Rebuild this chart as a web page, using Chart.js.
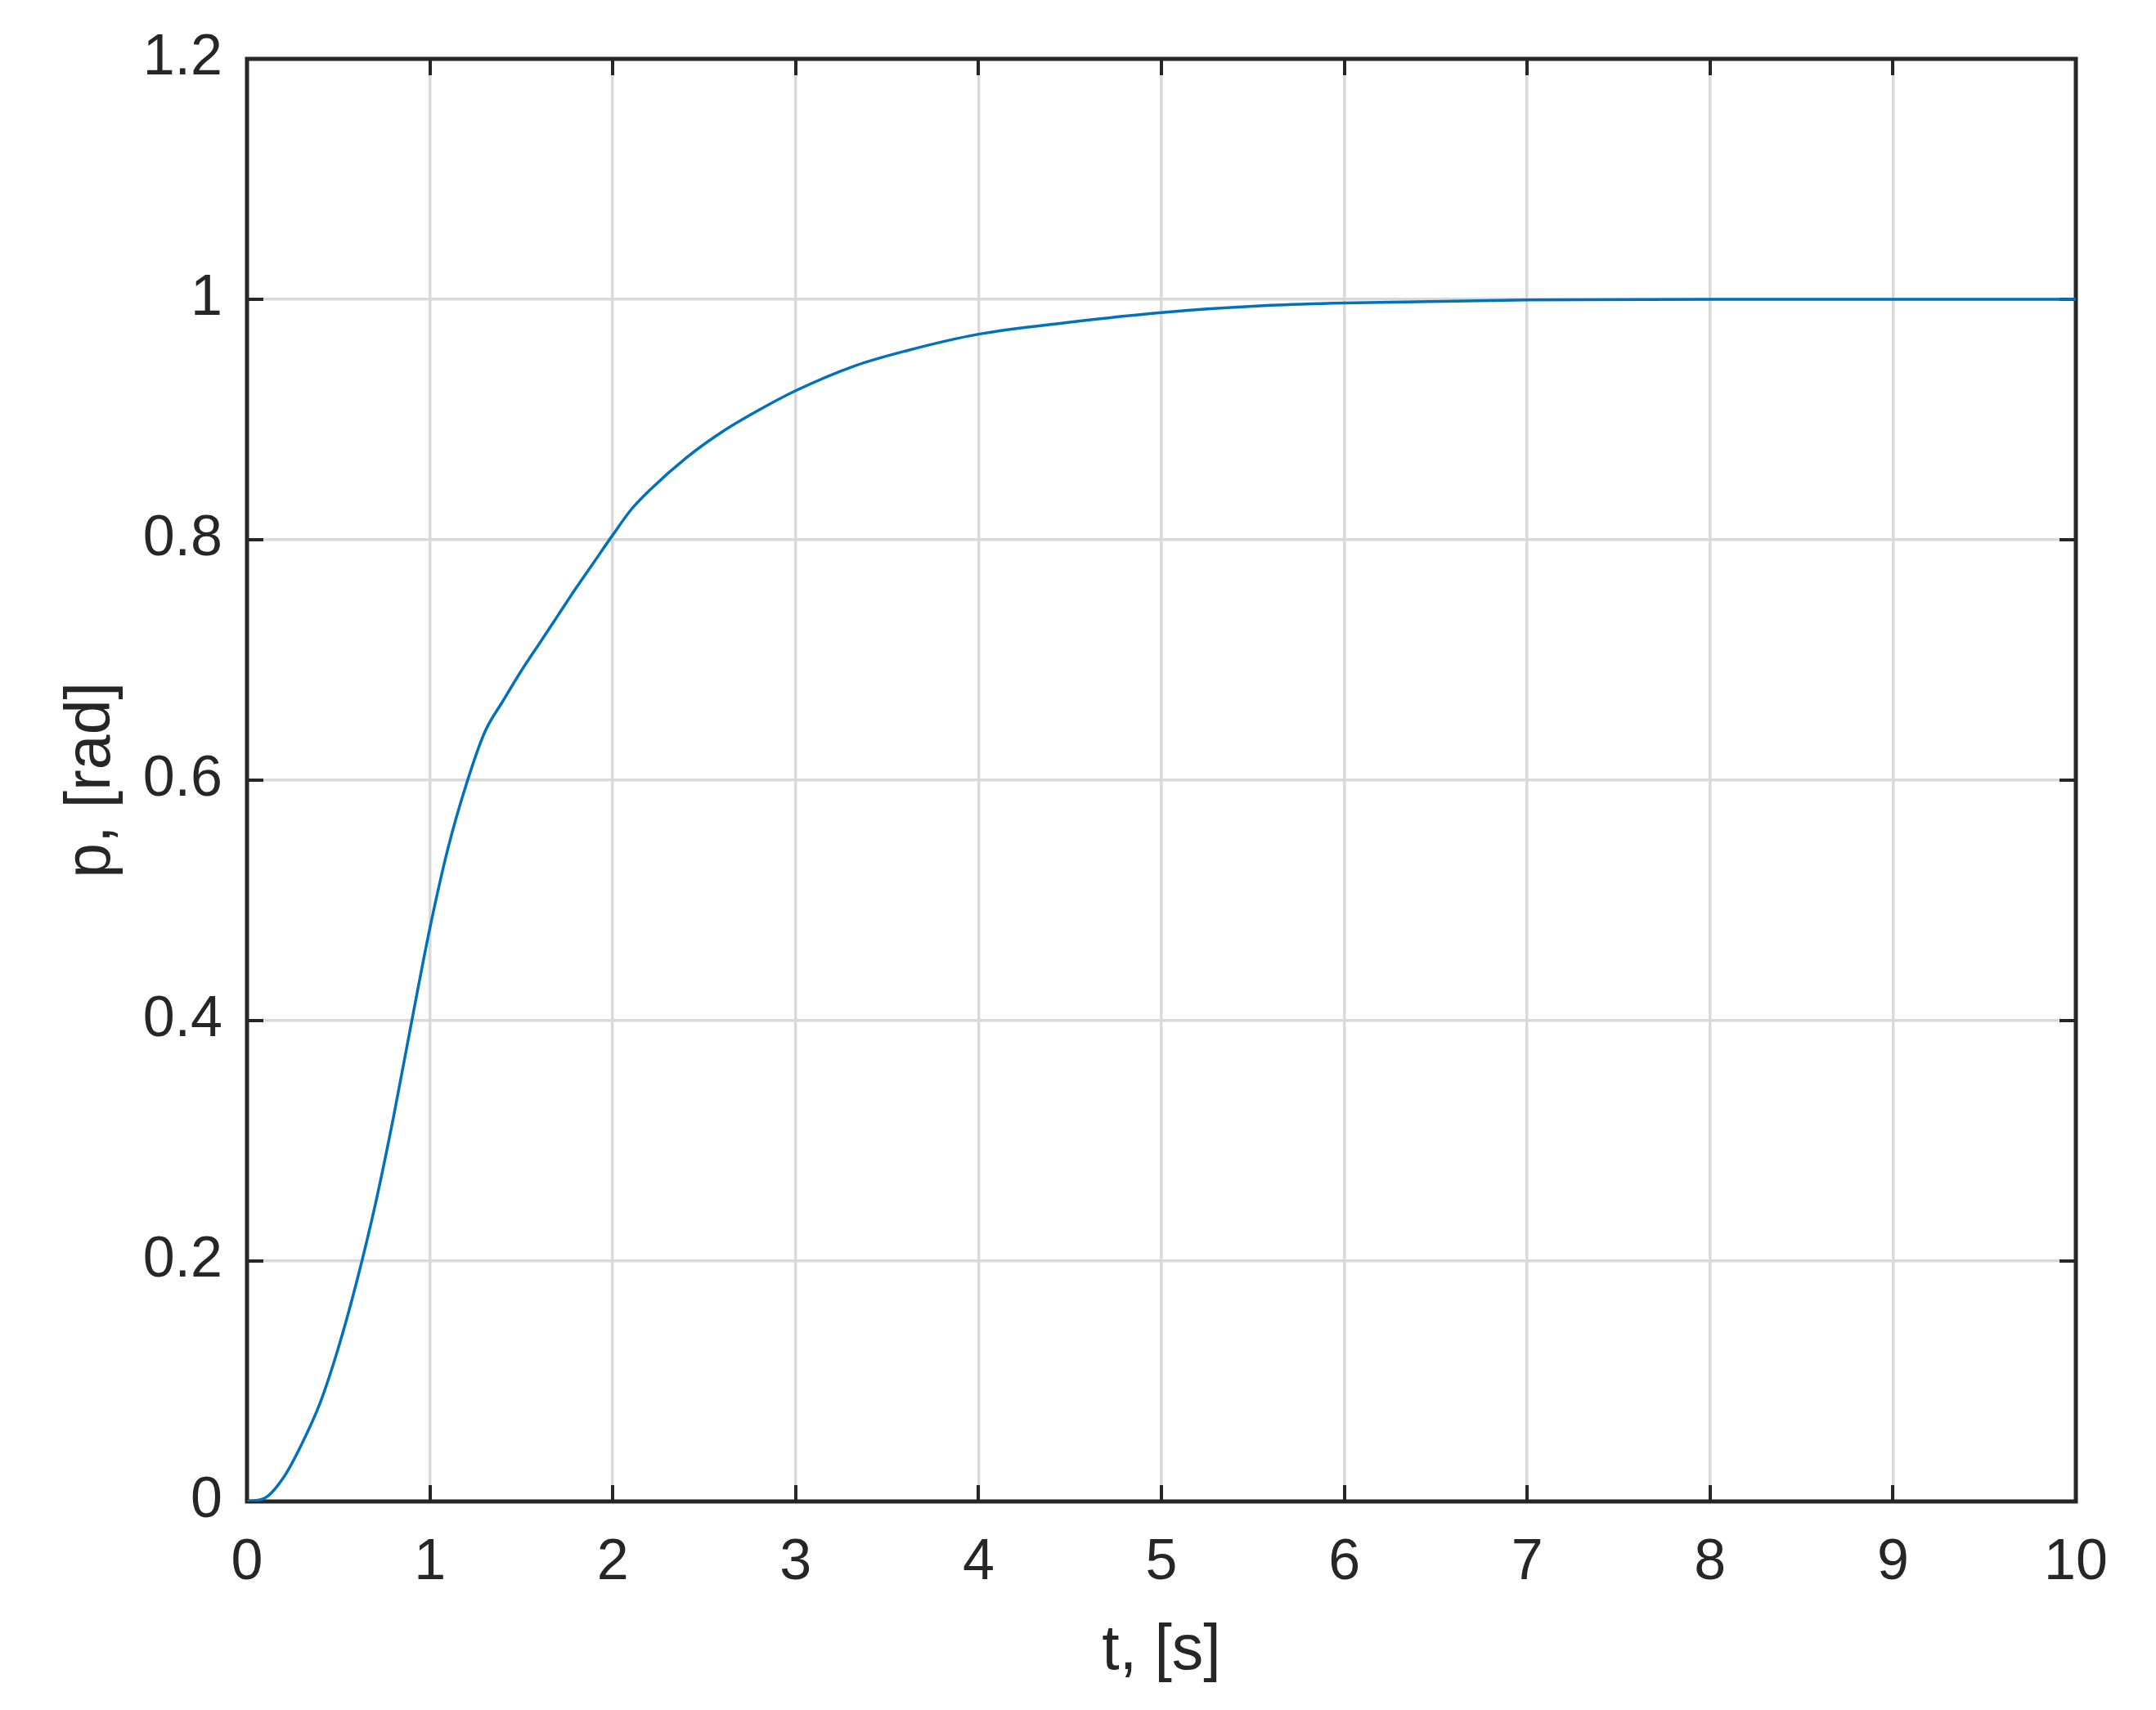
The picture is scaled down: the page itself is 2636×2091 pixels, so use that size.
<!DOCTYPE html>
<html>
<head>
<meta charset="utf-8">
<script src="https://cdn.jsdelivr.net/npm/chart.js@4"></script>
<style>
  html, body { margin: 0; padding: 0; background: #ffffff; }
  #wrap { width: 2636px; height: 2091px; }
</style>
</head>
<body>
<div id="wrap"><canvas id="c" width="2636" height="2091"></canvas></div>
<script>
// ---- data ----
const timeS = [0, 0.1, 0.2, 0.3, 0.4, 0.5, 0.6, 0.7, 0.8, 0.9, 1.0, 1.1, 1.2, 1.3, 1.4, 1.5, 1.6, 1.7, 1.8, 1.9, 2.0, 2.1, 2.2, 2.4, 2.6, 2.8, 3.0, 3.33, 3.6, 4.0, 4.5, 5.0, 5.6, 6.0, 7.0, 8.0, 9.0, 10.0];
const pRad  = [0, 0.003, 0.020, 0.048, 0.082, 0.128, 0.183, 0.246, 0.319, 0.399, 0.477, 0.544, 0.597, 0.640, 0.666, 0.691, 0.714, 0.737, 0.760, 0.782, 0.804, 0.825, 0.841, 0.868, 0.890, 0.908, 0.924, 0.945, 0.957, 0.971, 0.981, 0.989, 0.995, 0.997, 0.9995, 1.0, 1.0, 1.0];
const xTickValues = [0, 1, 2, 3, 4, 5, 6, 7, 8, 9, 10];
const xTickLabels = ['0', '1', '2', '3', '4', '5', '6', '7', '8', '9', '10'];
const yTickValues = [0, 0.2, 0.4, 0.6, 0.8, 1.0, 1.2];
const yTickLabels = ['0', '0.2', '0.4', '0.6', '0.8', '1', '1.2'];
const xTitle = 't, [s]';
const yTitle = 'p, [rad]';

const points = timeS.map((t, i) => ({ x: t, y: pRad[i] }));
const INK = '#262626';
const FONT = '"Liberation Sans", Arial, Helvetica, sans-serif';

function labelFor(values, labels, v) {
  for (let i = 0; i < values.length; i++) {
    if (Math.abs(values[i] - v) < 1e-6) return labels[i];
  }
  return '';
}

const frameAndTicks = {
  id: 'frameAndTicks',
  beforeDatasetsDraw(chart) {
    const { ctx, chartArea: a, scales } = chart;
    const tl = 20;
    ctx.save();
    ctx.strokeStyle = INK;
    ctx.lineWidth = 4;
    ctx.beginPath();
    scales.x.ticks.forEach(t => {
      const px = Math.round(scales.x.getPixelForValue(t.value));
      ctx.moveTo(px, a.bottom); ctx.lineTo(px, a.bottom - tl);
      ctx.moveTo(px, a.top); ctx.lineTo(px, a.top + tl);
    });
    scales.y.ticks.forEach(t => {
      const py = Math.round(scales.y.getPixelForValue(t.value));
      ctx.moveTo(a.left, py); ctx.lineTo(a.left + tl, py);
      ctx.moveTo(a.right, py); ctx.lineTo(a.right - tl, py);
    });
    ctx.stroke();
    ctx.lineWidth = 5;
    ctx.strokeRect(a.left, a.top, a.right - a.left, a.bottom - a.top);
    ctx.restore();
  }
};

new Chart(document.getElementById('c'), {
  type: 'line',
  data: {
    datasets: [{
      data: points,
      borderColor: '#0072BD',
      borderWidth: 3.5,
      pointRadius: 0,
      fill: false,
      cubicInterpolationMode: 'monotone'
    }]
  },
  options: {
    responsive: false,
    animation: false,
    devicePixelRatio: 1,
    layout: { padding: { left: 0, top: 64, right: 98, bottom: 0 } },
    plugins: { legend: { display: false }, tooltip: { enabled: false } },
    scales: {
      x: {
        type: 'linear',
        min: 0, max: 10,
        afterFit: s => { s.height = 255; },
        afterBuildTicks: s => { s.ticks = xTickValues.map(v => ({ value: v })); },
        grid: { color: '#d9d9d9', lineWidth: 3.5, drawTicks: false },
        border: { display: false },
        ticks: {
          padding: 34,
          color: INK,
          font: { family: FONT, size: 70 },
          maxRotation: 0,
          autoSkip: false,
          callback: v => labelFor(xTickValues, xTickLabels, v)
        },
        title: {
          display: true, text: xTitle, color: INK,
          font: { family: FONT, size: 77 },
          padding: { top: 0, bottom: 25 }
        }
      },
      y: {
        type: 'linear',
        min: 0, max: 1.2,
        afterFit: s => { s.width = 302; },
        afterBuildTicks: s => { s.ticks = yTickValues.map(v => ({ value: v })); },
        grid: { color: '#d9d9d9', lineWidth: 3.5, drawTicks: false },
        border: { display: false },
        ticks: {
          padding: 30,
          color: INK,
          font: { family: FONT, size: 70 },
          autoSkip: false,
          callback: v => labelFor(yTickValues, yTickLabels, v)
        },
        title: {
          display: true, text: yTitle, color: INK,
          font: { family: FONT, size: 77 },
          padding: { top: 67, bottom: 0 }
        }
      }
    }
  },
  plugins: [frameAndTicks]
});
</script>
</body>
</html>
